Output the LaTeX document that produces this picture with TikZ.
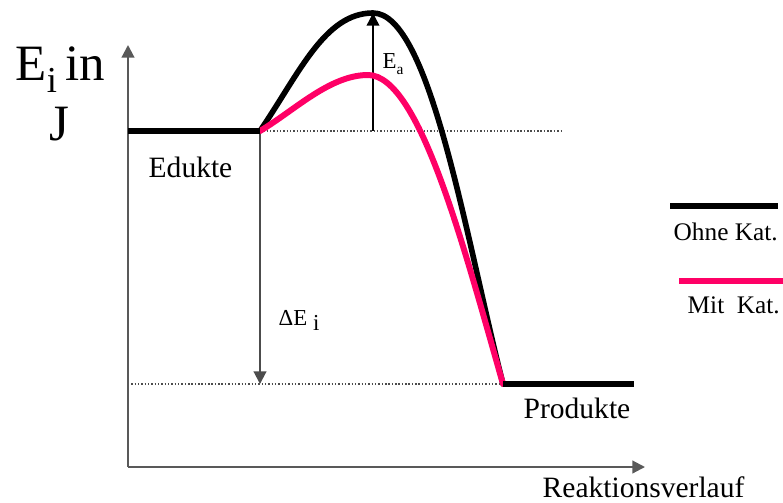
\documentclass[tikz,border=0pt]{standalone}
\usepackage{fontspec}
\setmainfont{Liberation Serif}
\usepackage{tikz}
\usetikzlibrary{arrows.meta,positioning,calc}
\definecolor{katpink}{RGB}{255,0,102}
\tikzset{
  axis/.style={-{Triangle[length=3.6pt,width=3.6pt]}, line width=0.6pt, black!65},
  level/.style={draw=black, line width=1.6pt},
  ohne/.style={draw=black, line width=1.6pt, line cap=round},
  mit/.style={draw=katpink, line width=1.7pt, line cap=round},
  guide/.style={draw=black!70, line width=0.35pt, dash pattern=on 0.4pt off 0.55pt},
  energy/.style={-{Triangle[length=3.6pt,width=3.6pt]}, line width=0.4pt, black},
  label/.style={inner sep=0pt, anchor=base west, font=\fontsize{8.4}{9}\selectfont},
  legend/.style={inner sep=0pt, anchor=base west, font=\fontsize{7.2}{8}\selectfont},
  small/.style={inner sep=0pt, anchor=base west, font=\fontsize{6.5}{7}\selectfont}
}

\begin{document}
\begin{tikzpicture}
  \useasboundingbox (0,0) rectangle (7.83,5.02);
  \coordinate (O) at (1.28,0.35);
  \coordinate (ytop) at (1.28,4.57);
  \coordinate (xend) at (6.45,0.35);
  \coordinate (edL) at (1.28,3.71);
  \coordinate (edR) at (2.60,3.71);
  \coordinate (edDot) at (5.63,3.71);
  \coordinate (prL) at (5.03,1.18);
  \coordinate (prR) at (6.34,1.18);
  \coordinate (prDot) at (1.28,1.18);
  \coordinate (peakOhne) at (3.73,4.89);
  \coordinate (peakMit) at (3.68,4.27);
  \coordinate (eaBase) at (3.73,3.71);
  \draw[guide] (edR)--(edDot);
  \draw[guide] (prDot)--(prL);
  \draw[axis] (O)--(ytop);
  \draw[axis] (O)--(xend);
  \draw[energy, black!70, line width=0.6pt] (edR)--(edR |- prL);
  \draw[energy] (eaBase)--(peakOhne);
  \draw[ohne] (edR) .. controls (3.0,4.3) and (3.25,4.89) .. (peakOhne)
    .. controls (4.30,4.89) and (4.66,2.63) .. (prL);
  \draw[mit] (edR) .. controls (2.95,3.92) and (3.3,4.27) .. (peakMit)
    .. controls (4.2,4.27) and (4.65,2.50) .. (prL);
  \draw[level] (edL)--(edR);
  \draw[level] (prL)--(prR);
  \node[inner sep=0pt, anchor=base west, font=\fontsize{14.5}{16}\selectfont] (yname) at (0.15,4.21) {E\raisebox{-3.4pt}{\fontsize{10.4}{11}\selectfont i}\,in};
  \node[inner sep=0pt, anchor=base west, font=\fontsize{14.5}{16}\selectfont] (yunit) at (0.49,3.62) {J};
  \node[label] (edukte) at (1.48,3.25) {Edukte};
  \node[label] (produkte) at (5.23,0.84) {Produkte};
  \node[label] (xname) at (5.42,0.05) {Reaktionsverlauf};
  \node[small] (dE) at (2.78,1.77) {ΔE \raisebox{-1.7pt}{i}};
  \node[small] (Ea) at (3.82,4.33) {E\raisebox{-1.7pt}{\fontsize{4.4}{5}\selectfont a}};
  \coordinate (legOhneL) at (6.70,2.96);
  \coordinate (legOhneR) at (7.78,2.96);
  \coordinate (legMitL) at (6.79,2.21);
  \coordinate (legMitR) at (7.83,2.21);
  \draw[level] (legOhneL)--(legOhneR);
  \draw[draw=katpink, line width=1.7pt] (legMitL)--(legMitR);
  \node[legend] (ohneText) at (6.73,2.62) {Ohne Kat.};
  \node[legend] (mitText) at (6.87,1.89) {Mit\ \ Kat.};
\end{tikzpicture}
\end{document}
